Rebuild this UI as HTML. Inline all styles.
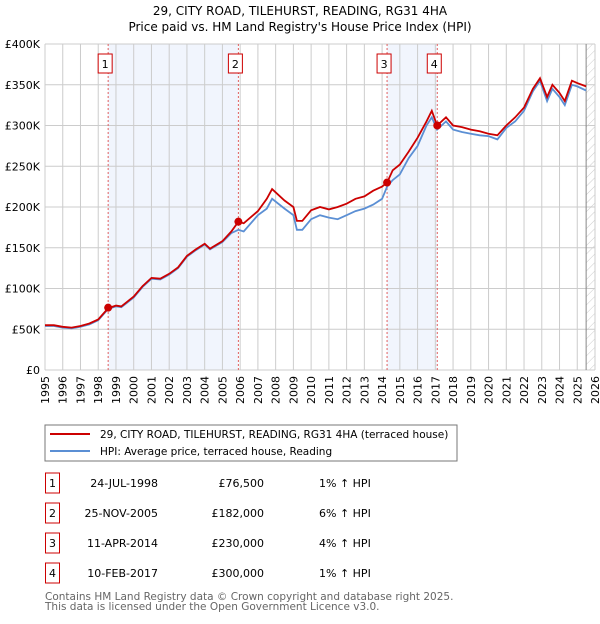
<!DOCTYPE html>
<html><head><meta charset="utf-8"><style>
body{margin:0;background:#fff;font-family:"DejaVu Sans","Liberation Sans",sans-serif;}
svg text{font-family:"DejaVu Sans","Liberation Sans",sans-serif;}
</style></head><body>
<svg id="c" width="600" height="620" xmlns="http://www.w3.org/2000/svg">
<defs><pattern id="hatch" width="6" height="6" patternUnits="userSpaceOnUse" patternTransform="rotate(45)"><line x1="0" y1="0" x2="0" y2="6" stroke="#ccc" stroke-width="1"/></pattern></defs>
<text x="300" y="15" text-anchor="middle" font-size="12">29, CITY ROAD, TILEHURST, READING, RG31 4HA</text>
<text x="300" y="31" text-anchor="middle" font-size="12">Price paid vs. HM Land Registry's House Price Index (HPI)</text>
<g id="plot"></g>
<rect x="45" y="425" width="412" height="36" fill="#fff" stroke="#777"/>
<line x1="50" y1="434" x2="90" y2="434" stroke="#cc0000" stroke-width="2"/>
<text x="100" y="438" font-size="10.5">29, CITY ROAD, TILEHURST, READING, RG31 4HA (terraced house)</text>
<line x1="50" y1="451" x2="90" y2="451" stroke="#5b8fd4" stroke-width="2"/>
<text x="100" y="455" font-size="10.5">HPI: Average price, terraced house, Reading</text>
<g id="table"></g>
<text x="45" y="600" font-size="10.5" fill="#666">Contains HM Land Registry data © Crown copyright and database right 2025.</text>
<text x="45" y="610" font-size="10.5" fill="#666">This data is licensed under the Open Government Licence v3.0.</text>
</svg>
<script>
const priceT=[1995,1995.5,1996,1996.5,1997,1997.5,1998,1998.56,1999,1999.3,2000,2000.5,2001,2001.5,2002,2002.5,2003,2003.5,2004,2004.3,2005,2005.5,2005.9,2006.2,2007,2007.5,2007.8,2008.5,2009,2009.2,2009.5,2010,2010.5,2011,2011.5,2012,2012.5,2013,2013.5,2014,2014.28,2014.6,2015,2015.5,2016,2016.5,2016.8,2017.1,2017.6,2018,2018.5,2019,2019.5,2020,2020.5,2021,2021.5,2022,2022.5,2022.9,2023.3,2023.6,2024,2024.3,2024.7,2025,2025.5];
const priceV=[55,55,53,52,54,57,62,76,79,78,90,103,113,112,118,126,140,148,155,149,158,170,182,180,195,210,222,208,200,183,183,196,200,197,200,204,210,213,220,225,230,245,252,268,285,305,318,300,310,300,298,295,293,290,288,300,310,322,345,358,335,350,340,330,355,352,348];
const hpiV=[54,54,52,51,53,56,61,75,78,77,89,102,112,111,117,125,139,147,154,148,157,168,172,170,190,198,210,198,190,172,172,185,190,187,185,190,195,198,203,210,225,233,240,260,275,300,310,295,305,295,292,290,288,287,283,297,305,318,342,355,330,345,335,325,350,348,343];
const saleT=[1998.56,2005.9,2014.28,2017.11];
const saleV=[76.5,182,230,300];
const saleLabels=["1","2","3","4"];
const saleDates=["24-JUL-1998","25-NOV-2005","11-APR-2014","10-FEB-2017"];
const salePrices=["£76,500","£182,000","£230,000","£300,000"];
const saleHpi=["1% ↑ HPI","6% ↑ HPI","4% ↑ HPI","1% ↑ HPI"];
const yTicks=[0,50,100,150,200,250,300,350,400];
const yLabels=["£0","£50K","£100K","£150K","£200K","£250K","£300K","£350K","£400K"];
const xYears=[1995,1996,1997,1998,1999,2000,2001,2002,2003,2004,2005,2006,2007,2008,2009,2010,2011,2012,2013,2014,2015,2016,2017,2018,2019,2020,2021,2022,2023,2024,2025,2026];
const NS="http://www.w3.org/2000/svg";
const X0=45,X1=595,Y0=370,Y1=44;
const sx=t=>X0+(t-1995)/31*(X1-X0);
const sy=v=>Y0-v/400*(Y0-Y1);
const plot=document.getElementById('plot');
function mk(tag,attrs,parent){const e=document.createElementNS(NS,tag);for(const k in attrs)e.setAttribute(k,attrs[k]);(parent||plot).appendChild(e);return e;}
let e;
e=mk('rect',{x:X0,y:Y1,width:X1-X0,height:Y0-Y1,fill:'#fff'});


for(let i=0;i<2;i++){e=mk('rect',{x:sx(saleT[i*2]),y:Y1,width:sx(saleT[i*2+1])-sx(saleT[i*2]),height:Y0-Y1,fill:'#eef3fc',opacity:0.8});

}
e=mk('rect',{x:sx(2025.5),y:Y1,width:X1-sx(2025.5),height:Y0-Y1,fill:'url(#hatch)'});


xYears.forEach(y=>{e=mk('line',{x1:sx(y),x2:sx(y),y1:Y1,y2:Y0,stroke:'#ccc'});


e=mk('text',{x:0,y:0,'font-size':11,'text-anchor':'end',transform:`translate(${sx(y)+4},${Y0+6}) rotate(-90)`});e.textContent=y;

});
yTicks.forEach((v,i)=>{e=mk('line',{x1:X0,x2:X1,y1:sy(v),y2:sy(v),stroke:'#ccc'});


e=mk('text',{x:40,y:sy(v)+4,'font-size':11,'text-anchor':'end'});e.textContent=yLabels[i];

});
e=mk('line',{x1:sx(2025.5),x2:sx(2025.5),y1:Y1,y2:Y0,stroke:'#888'});


saleT.forEach((t,i)=>{e=mk('line',{x1:sx(t),x2:sx(t),y1:Y1,y2:Y0,stroke:'#e06060','stroke-dasharray':'2,2'});


e=mk('rect',{x:sx(t)-7-(i==2||i==3?3:3),y:54,width:14,height:19,fill:'#fff',stroke:'#cc0000'});


e=mk('text',{x:sx(t)-3,y:68,'font-size':11,'text-anchor':'middle'});e.textContent=saleLabels[i];

});
const path=(vals)=>priceT.map((t,i)=>(i?'L':'M')+sx(t).toFixed(1)+','+sy(vals[i]).toFixed(1)).join('');
e=mk('path',{d:path(hpiV),fill:'none',stroke:'#5b8fd4','stroke-width':1.8});


e=mk('path',{d:path(priceV),fill:'none',stroke:'#cc0000','stroke-width':1.8});


saleT.forEach((t,i)=>{e=mk('circle',{cx:sx(t),cy:sy(saleV[i]),r:4,fill:'#cc0000'});

});
const tb=document.getElementById('table');
saleLabels.forEach((l,i)=>{const y=483+i*30;
e=mk('rect',{x:45.5,y:y-10,width:14,height:20,fill:'#fff',stroke:'#cc0000'},tb);


e=mk('text',{x:52.5,y:y+4,'font-size':11,'text-anchor':'middle'},tb);e.textContent=l;


e=mk('text',{x:158,y:y+4,'font-size':11,'text-anchor':'end'},tb);e.textContent=saleDates[i];


e=mk('text',{x:264,y:y+4,'font-size':11,'text-anchor':'end'},tb);e.textContent=salePrices[i];


e=mk('text',{x:319,y:y+4,'font-size':11},tb);e.textContent=saleHpi[i];

});
</script>
</body></html>
